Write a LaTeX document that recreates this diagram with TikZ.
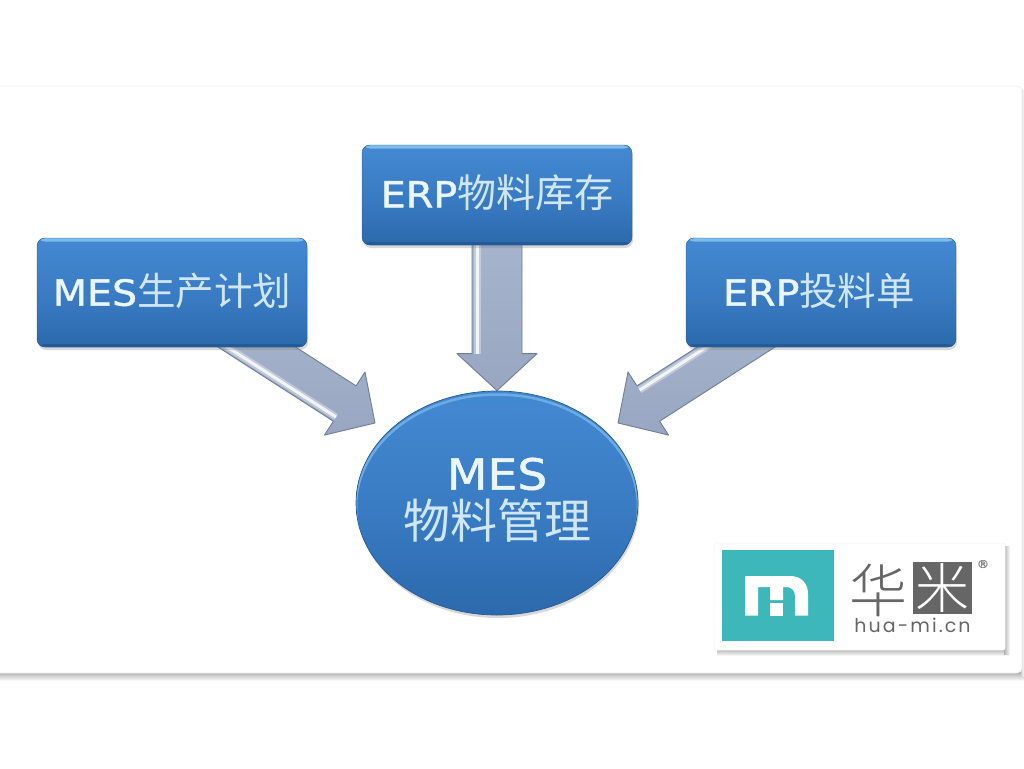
\documentclass[tikz,border=0pt]{standalone}
\usepackage{fontspec}
\setmainfont[FakeStretch=1.1,FakeBold=1.2]{DejaVu Sans}
\newfontfamily\cjk{Noto Sans CJK SC}
\newfontfamily\cjkthin{Noto Sans CJK SC Light}
\newfontfamily\logofont[LetterSpace=11]{Poppins}
\usetikzlibrary{calc,shapes.geometric,shadows,fadings}
\pgfdeclarelayer{cardlayer}
\pgfdeclarelayer{arrowlayer}
\pgfsetlayers{cardlayer,arrowlayer,main}
\definecolor{bluetop}{HTML}{4389D2}
\definecolor{bluemid}{HTML}{3A7CC4}
\definecolor{bluelow}{HTML}{2C69AC}
\definecolor{blueedge}{HTML}{245A96}
\definecolor{bluerim}{HTML}{7FBBEB}
\definecolor{arrowtop}{HTML}{ABB8D0}
\definecolor{arrowlow}{HTML}{98A6C1}
\definecolor{arrowedge}{HTML}{6E7F96}
\definecolor{lighttext}{HTML}{EAF6FC}
\definecolor{cjktext}{HTML}{CFE6F5}
\definecolor{teal}{HTML}{3DB7B9}
\definecolor{logogray}{HTML}{666666}
\tikzset{
  x=1pt,y=-1pt,
  softshadow/.style={drop shadow={shadow xshift=1pt,shadow yshift=-3pt,opacity=.3,fill=black!50}},
  srcbox/.style={rectangle,rounded corners=8pt,minimum width=270pt,minimum height=#1,inner sep=0pt,
    draw=blueedge,line width=.4pt,top color=bluetop,bottom color=bluelow,middle color=bluemid,
    text=lighttext,softshadow,
    path picture={
      \fill[bluerim] (path picture bounding box.north west) rectangle ([yshift=-3.5pt]path picture bounding box.north east);
      \fill[blueedge] (path picture bounding box.south west) rectangle ([yshift=3pt]path picture bounding box.south east);
    }},
  hubshape/.style={ellipse,minimum width=282pt,minimum height=224pt,inner sep=0pt,
    draw=blueedge,line width=.7pt,top color=bluetop,bottom color=bluelow,middle color=bluemid,
    text=lighttext,align=center,softshadow,
    path picture={
      \draw[bluerim!70!bluetop,line width=2.5pt] ([yshift=-3.5pt]path picture bounding box.center) ellipse [x radius=141pt,y radius=112pt];
    }},
  logotext/.style={inner sep=0pt,text=logogray},
}
\newcommand{\latinpart}[2]{{\fontsize{#1}{#1}\selectfont #2}}
\newcommand{\cjkpart}[2]{{\cjk\fontsize{#1}{#1}\selectfont\color{cjktext} #2}}
% block arrow from #1 to #2: half shaft #3, half head #4, head length #5
\newcommand{\blockarrow}[5]{
  \coordinate (neck) at ($(#2)!#5!(#1)$);
  \draw[draw=arrowedge,line width=.9pt,line join=round,top color=arrowtop,bottom color=arrowlow]
    ($(#1)!#3!90:(#2)$) -- ($(neck)!#3!90:(#2)$) -- ($(neck)!#4!90:(#2)$) -- (#2) --
    ($(neck)!#4!-90:(#2)$) -- ($(neck)!#3!-90:(#2)$) -- ($(#1)!#3!-90:(#2)$) -- cycle;
  \coordinate (hlneck) at ($(neck)!#3-5pt!-90:(#2)$);
  \coordinate (hlstart) at ($(#1)!#3-5pt!-90:(#2)$);
  \draw[draw=white,opacity=.35,line width=7pt] (hlstart) -- (hlneck);
  \draw[draw=white,opacity=.8,line width=3pt] (hlstart) -- (hlneck);
}
\begin{document}
\begin{tikzpicture}
\useasboundingbox (0,0) rectangle (1024,768);
\begin{pgfonlayer}{cardlayer}
\fill[white] (0,0) rectangle (1024,768);
\shade[top color=black!32,bottom color=white] (0,672) rectangle (1024,681);
\shade[left color=black!18,right color=white] (1021,90) rectangle (1024,676);
\fill[white,draw=black!6,line width=.7pt,rounded corners=6pt] (-6,86) rectangle (1022,673);
\end{pgfonlayer}

\node[srcbox=109pt] (plan) at (172,292.5) {\raisebox{6pt}{\latinpart{36}{MES}\cjkpart{38.5}{生产计划}}};
\node[srcbox=100pt] (stock) at (497,195) {\raisebox{8pt}{\latinpart{36}{ERP}\cjkpart{39}{物料库存}}};
\node[srcbox=109pt] (issue) at (821,292.5) {\raisebox{6pt}{\hspace{-4pt}\latinpart{36}{ERP}\cjkpart{38.5}{投料单}}};
\node[hubshape] (hub) at (497,503) {\raisebox{1pt}{\latinpart{43}{MES}}\\[7pt]\cjkpart{47}{物料管理}\rule[-10pt]{0pt}{10pt}};

\coordinate (tipL) at (375,423);
\coordinate (tipR) at (618,423);
\begin{pgfonlayer}{arrowlayer}
\blockarrow{plan.center}{tipL}{21pt}{37.5pt}{36pt}
\blockarrow{stock.center}{hub.north}{25pt}{40pt}{37pt}
\blockarrow{issue.center}{tipR}{21pt}{37.5pt}{36pt}
\end{pgfonlayer}

% logo
\shade[top color=black!30,bottom color=white] (717,649) rectangle (1009,656);
\shade[left color=black!30,right color=white] (1004,546) rectangle (1010,654);
\fill[white,draw=black!5,line width=.5pt,rounded corners=2pt] (714,543) rectangle (1005,650);
\fill[teal] (722,550) rectangle (834,641);
\fill[white] (745,576) -- (790,576) .. controls (802,576) and (808,584) .. (808,594) -- (808,615.5) -- (795,615.5) -- (795,596)
  .. controls (795,590) and (791,587) .. (786,587) -- (783,587) -- (783,600) -- (770,600) -- (770,587) -- (758,587) -- (758,615.5) -- (745,615.5) -- cycle;
\fill[white] (770,602.5) rectangle (783,615.5);
\node[logotext] (hua) at (878.5,590) {\cjkthin\fontsize{58}{58}\selectfont\color{logogray}华};
\node[rectangle,fill=logogray,minimum width=59pt,minimum height=52pt,inner sep=0pt,text=white] (mi) at (942.5,588)
  {\cjkthin\fontsize{54}{54}\selectfont 米};
\node[logotext,text=black!50] (reg) at (983,564) {\fontsize{11}{11}\selectfont ®};
\node[logotext] (web) at (912.5,625) {\logofont\fontsize{19}{19}\selectfont hua-mi.cn};
\end{tikzpicture}
\end{document}
